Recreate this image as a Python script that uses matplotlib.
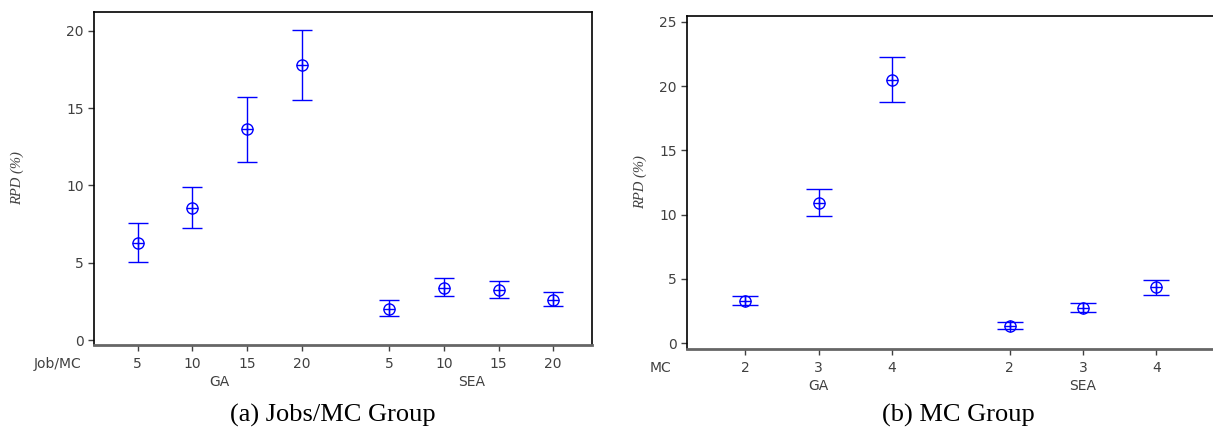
import numpy as np
import matplotlib
matplotlib.use("Agg")
import matplotlib.pyplot as plt
import matplotlib.transforms as mtransforms

# (a) Jobs/MC group
jobs_labels = ["5", "10", "15", "20"]
jobs_ga_mean = [6.31, 8.52, 13.64, 17.78]
jobs_ga_low = [5.04, 7.26, 11.53, 15.52]
jobs_ga_high = [7.56, 9.89, 15.73, 20.06]
jobs_sea_mean = [2.05, 3.41, 3.25, 2.62]
jobs_sea_low = [1.57, 2.87, 2.72, 2.22]
jobs_sea_high = [2.63, 4.01, 3.86, 3.13]

# (b) MC group
mc_labels = ["2", "3", "4"]
mc_ga_mean = [3.32, 10.94, 20.44]
mc_ga_low = [3.01, 9.93, 18.75]
mc_ga_high = [3.68, 11.98, 22.25]
mc_sea_mean = [1.35, 2.72, 4.36]
mc_sea_low = [1.09, 2.41, 3.76]
mc_sea_high = [1.63, 3.16, 4.88]

groups = ["GA", "SEA"]

BLUE = "#0000ff"
GREY = "#404040"


def panel(ax, labels, ga, sea, factor_name, gap, capsize, xlim, ylim, yticks):
    n = len(labels)
    x_ga = np.arange(n)
    x_sea = np.arange(n) + n - 1 + gap
    for x, (m, lo, hi) in ((x_ga, ga), (x_sea, sea)):
        m = np.array(m)
        err = [m - np.array(lo), np.array(hi) - m]
        ax.errorbar(x, m, yerr=err, fmt="none", ecolor=BLUE, elinewidth=1.0,
                    capsize=capsize, capthick=1.0)
        ax.plot(x, m, "o", ms=8, mfc="none", mec=BLUE, mew=1.0)
        ax.plot(x, m, "+", ms=8, color=BLUE, mew=1.0)
    ax.set_xticks(np.concatenate([x_ga, x_sea]))
    ax.set_xticklabels(labels + labels)
    ax.set_xlim(*xlim)
    ax.set_ylim(*ylim)
    ax.set_yticks(yticks)
    ax.tick_params(axis="both", labelsize=10, colors=GREY, length=4, width=1)
    ax.tick_params(axis="x", pad=5)
    ax.set_ylabel("RPD (%)", family="Liberation Serif", style="italic",
                  fontsize=10.5, color=GREY)
    ax.spines["bottom"].set_color("#666666")
    ax.spines["bottom"].set_linewidth(2)
    for s in ("top", "left", "right"):
        ax.spines[s].set_color("black")
        ax.spines[s].set_linewidth(1.2)
    trans = mtransforms.blended_transform_factory(ax.transData, ax.transAxes)
    ax.text(xlim[0], -0.035, factor_name, transform=ax.transAxes, ha="right",
            va="top", fontsize=10, color=GREY, family="DejaVu Sans")
    ax.text(x_ga.mean(), -0.09, groups[0], transform=trans, ha="center",
            va="top", fontsize=10, color=GREY)
    ax.text(x_sea.mean(), -0.09, groups[1], transform=trans, ha="center",
            va="top", fontsize=10, color=GREY)


fig = plt.figure(figsize=(12.13, 4.30), dpi=100)

ax1 = fig.add_axes([94 / 1213, 1 - 345 / 430, (592 - 94) / 1213, (345 - 12) / 430])
panel(ax1, jobs_labels, (jobs_ga_mean, jobs_ga_low, jobs_ga_high),
      (jobs_sea_mean, jobs_sea_low, jobs_sea_high), "Job/MC", 1.6, 7,
      (-0.8, 8.31), (-0.3, 21.2), [0, 5, 10, 15, 20])
ax1.texts[0].set_position((-0.026, -0.035))
ax1.yaxis.set_label_coords(-0.14, 0.5)

ax2 = fig.add_axes([687 / 1213, 1 - 349 / 430, (1213 - 687) / 1213, (349 - 16) / 430])
panel(ax2, mc_labels, (mc_ga_mean, mc_ga_low, mc_ga_high),
      (mc_sea_mean, mc_sea_low, mc_sea_high), "MC", 1.6, 9.5,
      (-0.79, 6.37), (-0.45, 25.45), [0, 5, 10, 15, 20, 25])
ax2.spines["right"].set_visible(False)
ax2.texts[0].set_position((-0.029, -0.035))
ax2.yaxis.set_label_coords(-0.076, 0.5)

fig.text(333 / 1213, 1 - 415 / 430, "(a) Jobs/MC Group", ha="center", va="center",
         family="Liberation Serif", fontsize=19)
fig.text(958 / 1213, 1 - 415 / 430, "(b) MC Group", ha="center", va="center",
         family="Liberation Serif", fontsize=19)

fig.savefig("out.png", dpi=100)
